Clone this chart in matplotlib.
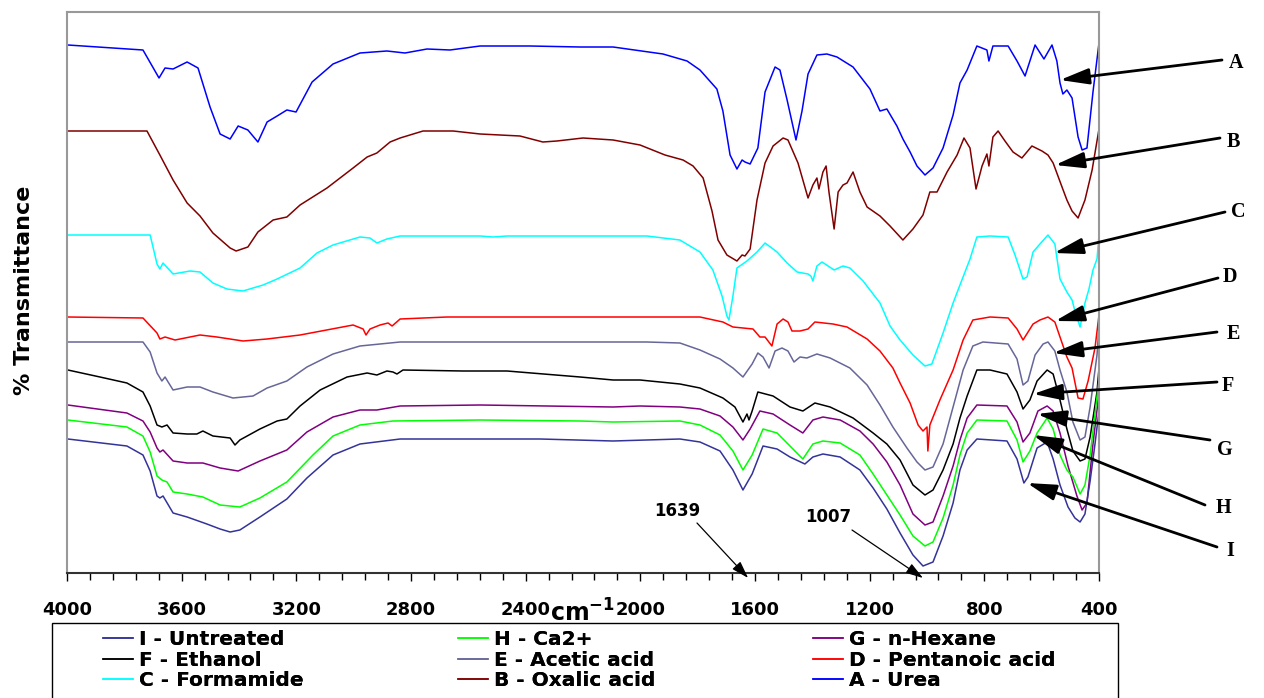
import numpy as np
import matplotlib
matplotlib.use('Agg')
import matplotlib.pyplot as plt
from matplotlib.lines import Line2D
from matplotlib.patches import Rectangle

# FTIR spectra, wavenumber (cm-1) and offset transmittance (a.u.)
wn_a = [3997, 3735, 3679, 3658, 3630, 3581, 3543, 3501, 3466, 3431, 3403, 3369, 3334, 3302, 3267, 3233, 3201, 3145,
        3072, 2978, 2884, 2821, 2744, 2664, 2559, 2385, 2210, 2095, 1921, 1837, 1792, 1733, 1712, 1687, 1663, 1645,
        1635, 1617, 1590, 1565, 1530, 1513, 1488, 1457, 1436, 1415, 1384, 1349, 1314, 1258, 1199, 1164, 1140, 1105,
        1084, 1059, 1035, 1007, 979, 944, 909, 885, 860, 826, 791, 784, 770, 717, 686, 658, 623, 592, 564, 547, 536,
        526, 512, 494, 473, 459, 442, 421, 400]
t_a = [528, 523, 495, 505, 504, 511, 505, 466, 439, 434, 447, 443, 431, 451, 457, 463, 461, 491, 509, 520, 522, 520,
       524, 523, 527, 527, 526, 526, 519, 512, 503, 484, 462, 418, 404, 413, 411, 409, 425, 481, 506, 503, 473, 433,
       462, 499, 518, 519, 516, 506, 484, 462, 464, 447, 434, 421, 407, 398, 405, 425, 458, 490, 503, 527, 523, 512,
       527, 527, 512, 497, 528, 514, 528, 512, 490, 479, 483, 475, 436, 423, 425, 481, 530]

wn_b = [3997, 3721, 3676, 3630, 3581, 3536, 3491, 3431, 3410, 3369, 3334, 3281, 3233, 3187, 3093, 3002, 2953, 2919,
        2873, 2838, 2758, 2653, 2559, 2420, 2340, 2291, 2200, 2095, 2001, 1914, 1851, 1816, 1781, 1750, 1729, 1698,
        1663, 1645, 1635, 1617, 1593, 1565, 1537, 1502, 1485, 1450, 1415, 1398, 1384, 1377, 1363, 1352, 1342, 1324,
        1310, 1293, 1279, 1258, 1234, 1209, 1164, 1129, 1084, 1049, 1014, 990, 965, 930, 895, 871, 850, 829, 808,
        791, 784, 770, 752, 728, 700, 669, 634, 599, 578, 560, 529, 512, 494, 473, 449, 424, 400]
t_b = [442, 442, 418, 393, 370, 357, 340, 325, 322, 326, 341, 353, 356, 368, 385, 405, 416, 420, 431, 435, 442, 442,
       439, 437, 431, 432, 435, 433, 428, 418, 413, 407, 395, 362, 333, 318, 312, 318, 317, 324, 373, 410, 427, 435,
       433, 410, 375, 388, 395, 384, 401, 407, 381, 344, 381, 388, 390, 401, 381, 366, 357, 347, 333, 344, 358, 381,
       381, 401, 418, 435, 425, 384, 407, 419, 407, 436, 442, 432, 421, 415, 427, 422, 418, 410, 386, 373, 362, 355,
       373, 403, 444]

wn_c = [3997, 3710, 3686, 3676, 3665, 3630, 3571, 3536, 3491, 3442, 3386, 3316, 3267, 3187, 3128, 3072, 2978, 2943,
        2919, 2884, 2838, 2559, 2514, 2465, 1977, 1862, 1792, 1747, 1715, 1698, 1691, 1677, 1663, 1628, 1593, 1565,
        1523, 1488, 1453, 1415, 1405, 1398, 1384, 1366, 1345, 1324, 1293, 1269, 1223, 1164, 1129, 1094, 1049, 1007,
        983, 944, 909, 885, 850, 826, 780, 717, 693, 665, 651, 630, 606, 578, 554, 536, 512, 494, 484, 466, 449, 435,
        421, 407, 400]
t_c = [338, 338, 309, 304, 310, 299, 302, 301, 290, 284, 282, 288, 294, 305, 320, 328, 336, 335, 330, 334, 337, 337,
       336, 337, 337, 333, 321, 303, 277, 257, 253, 277, 305, 312, 321, 330, 321, 310, 301, 299, 297, 292, 307, 311,
       307, 303, 307, 305, 292, 270, 247, 233, 218, 207, 209, 240, 270, 288, 314, 336, 337, 336, 318, 294, 296, 321,
       329, 338, 329, 294, 281, 273, 262, 246, 270, 284, 303, 314, 338]

wn_d = [3997, 3735, 3686, 3676, 3658, 3623, 3536, 3477, 3386, 3302, 3187, 3002, 2967, 2957, 2943, 2908, 2880, 2866,
        2838, 2674, 1792, 1712, 1677, 1607, 1583, 1565, 1541, 1523, 1502, 1485, 1471, 1443, 1415, 1391, 1328, 1279,
        1209, 1164, 1119, 1094, 1059, 1031, 1014, 1000, 997, 990, 955, 909, 874, 840, 780, 717, 686, 665, 630, 606,
        578, 554, 536, 512, 494, 473, 456, 438, 414, 400]
t_d = [256, 255, 240, 234, 236, 233, 238, 236, 232, 234, 238, 248, 244, 238, 244, 248, 250, 247, 254, 256, 256, 251,
       246, 244, 236, 236, 227, 249, 254, 251, 242, 242, 244, 251, 249, 246, 234, 222, 205, 190, 170, 148, 142, 146,
       122, 148, 173, 203, 233, 253, 256, 255, 244, 233, 249, 253, 256, 251, 236, 216, 205, 175, 174, 192, 225, 258]

wn_e = [3997, 3735, 3710, 3686, 3669, 3658, 3630, 3581, 3536, 3491, 3421, 3351, 3302, 3233, 3163, 3072, 2978, 2838,
        1977, 1862, 1792, 1722, 1677, 1642, 1610, 1590, 1572, 1551, 1530, 1506, 1485, 1464, 1443, 1419, 1384, 1338,
        1269, 1209, 1164, 1119, 1070, 1035, 1007, 979, 944, 909, 874, 840, 805, 717, 686, 665, 648, 623, 595, 578,
        554, 536, 512, 491, 466, 449, 431, 407, 400]
t_e = [231, 231, 221, 200, 192, 196, 183, 186, 186, 181, 175, 177, 185, 192, 206, 219, 227, 231, 231, 230, 223, 214,
       205, 196, 209, 220, 216, 205, 222, 225, 222, 211, 216, 215, 219, 215, 205, 188, 168, 146, 125, 111, 103, 106,
       129, 166, 203, 227, 231, 229, 214, 188, 192, 218, 229, 231, 222, 203, 181, 151, 133, 136, 166, 218, 247]

wn_f = [3997, 3885, 3791, 3735, 3710, 3686, 3669, 3651, 3630, 3581, 3547, 3526, 3491, 3431, 3414, 3397, 3327, 3267,
        3233, 3187, 3117, 3023, 2953, 2919, 2884, 2863, 2849, 2828, 2619, 2465, 2210, 2095, 2001, 1862, 1792, 1712,
        1670, 1642, 1628, 1621, 1610, 1590, 1537, 1478, 1433, 1391, 1338, 1258, 1188, 1140, 1094, 1049, 1007, 979,
        944, 909, 885, 860, 826, 780, 721, 686, 665, 641, 616, 581, 560, 536, 512, 491, 466, 449, 431, 407, 400]
t_f = [203, 196, 190, 181, 167, 148, 146, 148, 140, 139, 139, 142, 137, 135, 128, 133, 144, 152, 154, 167, 183, 196,
       200, 198, 202, 201, 199, 203, 202, 202, 196, 193, 193, 189, 185, 175, 166, 151, 159, 153, 162, 181, 177, 166,
       162, 170, 166, 155, 140, 129, 113, 88, 78, 83, 103, 129, 155, 177, 203, 203, 199, 181, 164, 173, 192, 203,
       199, 173, 144, 122, 112, 114, 136, 181, 205]

wn_g = [3997, 3791, 3735, 3710, 3686, 3676, 3665, 3630, 3581, 3526, 3466, 3403, 3327, 3233, 3163, 3072, 2978, 2919,
        2838, 2559, 2095, 2001, 1862, 1792, 1722, 1677, 1642, 1617, 1583, 1537, 1478, 1433, 1398, 1363, 1303, 1234,
        1188, 1140, 1094, 1049, 1007, 979, 944, 909, 885, 860, 826, 721, 686, 665, 641, 613, 581, 560, 536, 508, 477,
        459, 442, 421, 400]
t_g = [168, 160, 152, 141, 125, 121, 123, 112, 110, 110, 105, 102, 112, 123, 141, 156, 163, 163, 167, 168, 166, 167,
       166, 164, 157, 146, 133, 144, 162, 159, 148, 140, 153, 156, 153, 142, 129, 111, 88, 59, 48, 51, 77, 107, 133,
       155, 168, 167, 151, 131, 140, 162, 167, 162, 140, 107, 77, 63, 70, 129, 180]

wn_h = [3997, 3791, 3735, 3710, 3686, 3669, 3651, 3630, 3581, 3526, 3466, 3397, 3327, 3233, 3142, 3072, 2978, 2863,
        2559, 2210, 2095, 1862, 1792, 1722, 1677, 1642, 1610, 1572, 1523, 1478, 1433, 1398, 1363, 1303, 1234, 1188,
        1140, 1094, 1049, 1007, 979, 944, 909, 885, 860, 826, 721, 686, 665, 641, 616, 581, 560, 536, 512, 491, 466,
        449, 431, 414, 400]
t_h = [153, 146, 137, 121, 97, 93, 91, 81, 79, 76, 68, 66, 75, 91, 118, 137, 148, 152, 153, 152, 151, 152, 148, 138,
       122, 103, 118, 144, 140, 127, 114, 129, 132, 130, 118, 99, 78, 58, 37, 27, 31, 55, 88, 118, 140, 153, 152, 133,
       111, 122, 140, 155, 144, 118, 103, 96, 79, 88, 118, 159, 193]

wn_i = [3997, 3791, 3735, 3710, 3686, 3676, 3665, 3630, 3581, 3512, 3466, 3431, 3397, 3327, 3233, 3163, 3072, 2978,
        2838, 2559, 2350, 2095, 1862, 1792, 1722, 1677, 1642, 1610, 1572, 1523, 1478, 1426, 1398, 1363, 1303, 1234,
        1188, 1140, 1094, 1049, 1014, 979, 944, 909, 885, 860, 826, 721, 686, 662, 648, 616, 581, 560, 536, 508, 484,
        466, 449, 431, 414, 400]
t_i = [134, 127, 118, 102, 77, 75, 77, 60, 56, 49, 44, 41, 43, 56, 74, 95, 118, 129, 134, 134, 134, 132, 134, 131,
       122, 103, 83, 99, 127, 124, 116, 109, 116, 119, 116, 103, 85, 64, 40, 18, 7, 11, 37, 70, 103, 123, 134, 132,
       114, 90, 96, 125, 131, 114, 88, 66, 55, 51, 59, 92, 129, 162]

letters = ['A', 'B', 'C', 'D', 'E', 'F', 'G', 'H', 'I']
names = ['Urea', 'Oxalic acid', 'Formamide', 'Pentanoic acid', 'Acetic acid', 'Ethanol', 'n-Hexane', 'Ca2+',
         'Untreated']
colors = ['#0000FF', '#800000', '#00FFFF', '#FF0000', '#666699', '#000000', '#800080', '#00FF00', '#333399']
series = [(wn_a, t_a), (wn_b, t_b), (wn_c, t_c), (wn_d, t_d), (wn_e, t_e), (wn_f, t_f), (wn_g, t_g), (wn_h, t_h),
          (wn_i, t_i)]

# where each letter arrow touches its curve (wavenumber, transmittance)
arrow_heads = [(536, 493), (553, 408), (557, 320), (553, 252), (560, 220), (630, 179), (616, 159), (630, 138),
               (651, 90)]
peaks = [1639, 1007]

W, H = 1264, 698


def px(x, y):
    # pixel position (from top-left) -> figure fraction
    return x / W, 1 - y / H


fig = plt.figure(figsize=(W / 100, H / 100), dpi=100)
ax = fig.add_axes([67 / W, 1 - 573 / H, 1032 / W, 561 / H])

lines = {}
for letter, name, col, (wn, t) in zip(letters, names, colors, series):
    ln, = ax.plot(wn, t, color=col, lw=1.1)
    lines[letter] = ln

ax.set_xlim(4000, 400)
ax.set_ylim(0, 561)
ax.set_yticks([])
ax.set_xticks(np.arange(4000, 399, -400))
ax.set_xticks(np.arange(400, 4001, 80), minor=True)
ax.tick_params(axis='x', which='major', direction='out', length=6, width=1, pad=14, labelsize=13, colors='black')
ax.tick_params(axis='x', which='minor', direction='out', length=5, width=1)
for lab in ax.get_xticklabels():
    lab.set_fontweight('bold')
for s in ['left', 'top', 'right']:
    ax.spines[s].set_color('#999999')
    ax.spines[s].set_linewidth(1.5)
ax.spines['bottom'].set_color('#333333')
ax.spines['bottom'].set_linewidth(1.5)

fig.text(*px(582, 622), r'cm$^{\mathbf{-1}}$', ha='center', va='baseline', fontsize=17, fontweight='bold')
fig.text(*px(24, 290), '% Transmittance', rotation=90, ha='center', va='center', fontsize=16, fontweight='bold')

# letter labels with arrows on the right
tails = [(1222, 60), (1220, 138), (1225, 212), (1218, 278), (1217, 332), (1217, 382), (1210, 440), (1205, 505),
         (1217, 547)]
letter_pos = [(1236, 63), (1233, 142), (1238, 212), (1230, 277), (1233, 334), (1228, 386), (1225, 450), (1223, 508),
              (1230, 551)]
for letter, head, tail, lp in zip(letters, arrow_heads, tails, letter_pos):
    ax.annotate('', xy=head, xycoords='data', xytext=px(*tail), textcoords='figure fraction',
                arrowprops=dict(arrowstyle='-|>,head_length=0.8,head_width=0.22', color='black', lw=2,
                                mutation_scale=22, shrinkA=0, shrinkB=0),
                annotation_clip=False)
    fig.text(*px(*lp), letter, ha='center', va='center', fontsize=14.5, fontweight='bold',
             family='Liberation Serif')

# peak markers below the spectra
peak_text = [(677, 511), (828, 517)]
peak_tail = [(697, 523), (852, 530)]
peak_head = [(1624, -5), (1014, -5)]
for p, pt, tl, hd in zip(peaks, peak_text, peak_tail, peak_head):
    fig.text(*px(*pt), str(p), ha='center', va='center', fontsize=12, fontweight='bold')
    ax.annotate('', xy=hd, xycoords='data', xytext=px(*tl), textcoords='figure fraction',
                arrowprops=dict(arrowstyle='-|>,head_length=0.7,head_width=0.22', color='black', lw=0.9,
                                mutation_scale=15, shrinkA=0, shrinkB=0),
                annotation_clip=False)

# legend: three columns, in a box that runs off the bottom
cols = [['I', 'F', 'C'], ['H', 'E', 'B'], ['G', 'D', 'A']]
col_x = [103, 458, 813]
for keys, cx in zip(cols, col_x):
    hs = [lines[k] for k in keys]
    labs = [k + ' - ' + names[letters.index(k)] for k in keys]
    leg = fig.legend(hs, labs, loc='upper left', bbox_to_anchor=px(cx, 630), bbox_transform=fig.transFigure,
                     frameon=False, borderpad=0, borderaxespad=0, labelspacing=0.08, handlelength=1.5,
                     handletextpad=0.3, prop={'weight': 'bold', 'size': 14.5})
    fig.add_artist(leg)
fig.add_artist(Rectangle(px(52, 706), 1066 / W, 83 / H, transform=fig.transFigure, fill=False, ec='black',
                         lw=1))

fig.savefig('out.png', dpi=100)
